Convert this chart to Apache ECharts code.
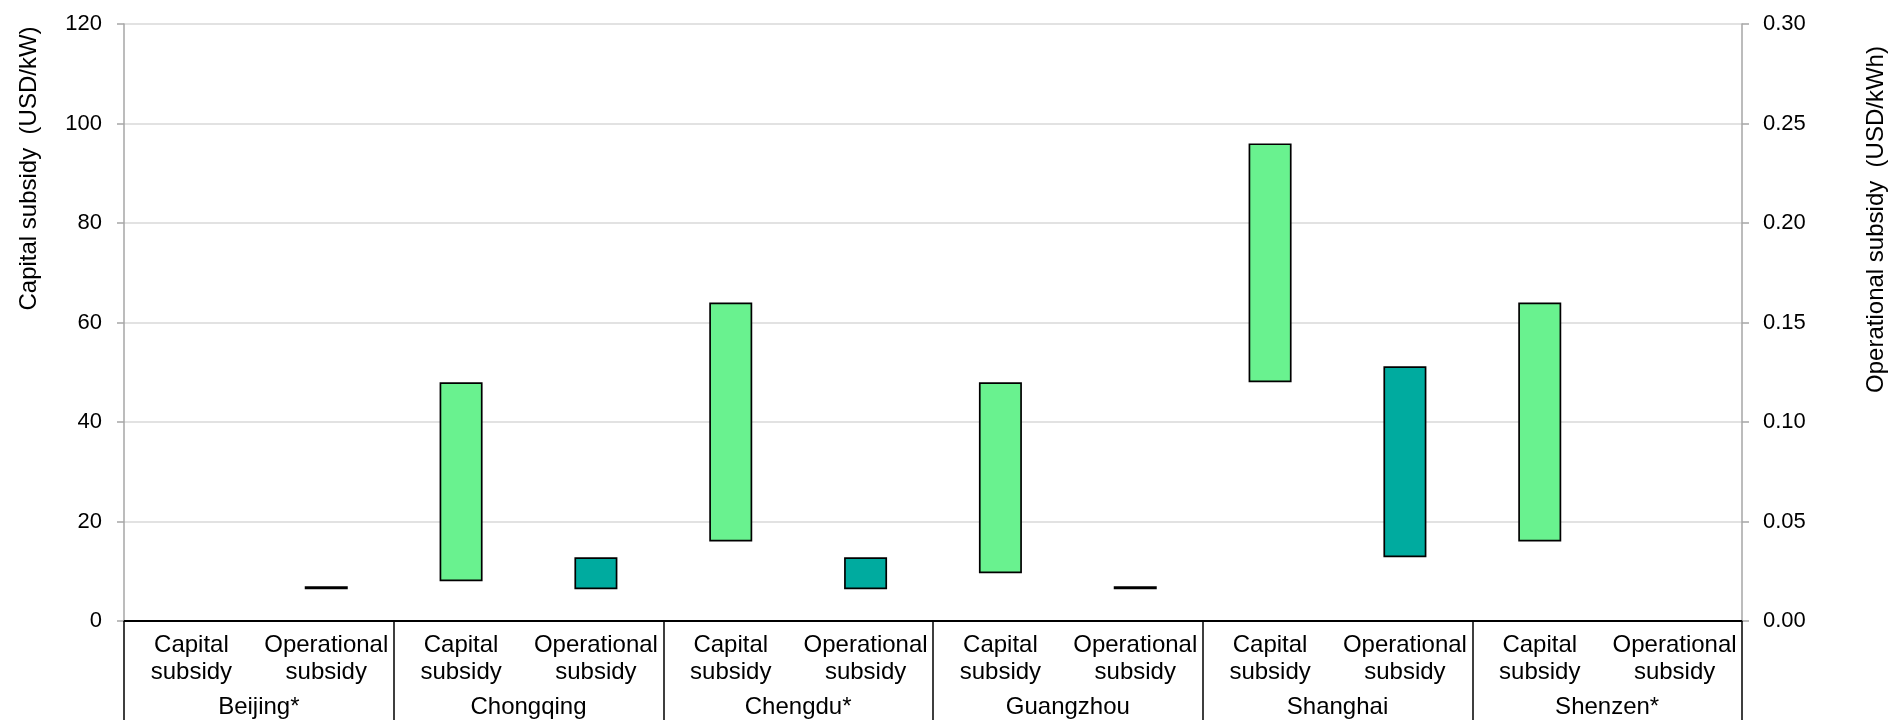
<!DOCTYPE html>
<html>
<head>
<meta charset="utf-8">
<script src="https://cdn.jsdelivr.net/npm/echarts@6/dist/echarts.min.js"></script>
<style>
html,body{margin:0;padding:0;background:#fff;}
#chart{width:1890px;height:720px;}
</style>
</head>
<body>
<div id="chart"></div>
<script>
const cities = ['Beijing*', 'Chongqing', 'Chengdu*', 'Guangzhou', 'Shanghai', 'Shenzen*'];
const subsidyTypes = ['Capital\nsubsidy', 'Operational\nsubsidy'];
// Capital subsidy range (USD/kW), left axis
const capitalLow  = [null, 8, 16, 9.6, 48, 16];
const capitalHigh = [null, 48, 64, 48, 96, 64];
// Operational subsidy range (USD/kWh), right axis
const operationalLow  = [0.016, 0.016, 0.016, 0.016, 0.032, null];
const operationalHigh = [0.016, 0.032, 0.032, 0.016, 0.128, null];

const categories = [];
cities.forEach(() => subsidyTypes.forEach(t => categories.push(t)));

const capBase = [], capRange = [], opBase = [], opRange = [];
cities.forEach((c, i) => {
  const hasCap = capitalLow[i] != null;
  const hasOp = operationalLow[i] != null;
  capBase.push(hasCap ? capitalLow[i] : '-');
  capRange.push(hasCap ? +(capitalHigh[i] - capitalLow[i]).toFixed(4) : '-');
  capBase.push('-'); capRange.push('-');
  opBase.push('-'); opRange.push('-');
  opBase.push(hasOp ? operationalLow[i] : '-');
  opRange.push(hasOp ? +(operationalHigh[i] - operationalLow[i]).toFixed(4) : '-');
});

const FONT = 'Liberation Sans, Arial, sans-serif';
const chart = echarts.init(document.getElementById('chart'));
chart.setOption({
  animation: false,
  backgroundColor: '#ffffff',
  textStyle: { fontFamily: FONT, color: '#000' },
  grid: { left: 124, right: 148, top: 24, bottom: 99, containLabel: false, outerBoundsMode: 'none' },
  xAxis: [
    {
      type: 'category',
      data: categories,
      axisLine: { show: true, lineStyle: { color: '#000', width: 2 } },
      axisTick: { show: false },
      axisLabel: { interval: 0, margin: 11, fontSize: 24, lineHeight: 27, color: '#000', fontFamily: FONT }
    },
    {
      type: 'category',
      data: cities,
      position: 'bottom',
      axisLine: { show: false },
      axisTick: { show: true, length: 110, lineStyle: { color: '#000', width: 1.5 } },
      axisLabel: { interval: 0, margin: 73, fontSize: 24, lineHeight: 27, color: '#000', fontFamily: FONT }
    }
  ],
  yAxis: [
    {
      type: 'value', min: 0, max: 120, interval: 20,
      name: 'Capital subsidy  (USD/kW)',
      nameLocation: 'middle', nameGap: 83,
      nameTextStyle: { fontSize: 24, color: '#000', fontFamily: FONT, padding: [0, 0, 0, 308] },
      axisLine: { show: true, lineStyle: { color: '#A6A6A6', width: 1.5 } },
      axisTick: { show: true, length: 7, lineStyle: { color: '#A6A6A6', width: 1.5 } },
      axisLabel: { margin: 22, fontSize: 22, color: '#000', fontFamily: FONT },
      splitLine: { show: true, lineStyle: { color: '#D9D9D9', width: 1.5 } }
    },
    {
      type: 'value', min: 0, max: 0.3, interval: 0.05,
      name: 'Operational subsidy  (USD/kWh)',
      nameLocation: 'middle', nameGap: 122, nameRotate: 90,
      nameTextStyle: { fontSize: 24, color: '#000', fontFamily: FONT, padding: [0, 0, 0, 206] },
      axisLine: { show: true, lineStyle: { color: '#A6A6A6', width: 1.5 } },
      axisTick: { show: true, length: 7, lineStyle: { color: '#A6A6A6', width: 1.5 } },
      axisLabel: { margin: 21, fontSize: 22, color: '#000', fontFamily: FONT, formatter: v => v.toFixed(2) },
      splitLine: { show: false }
    }
  ],
  series: [
    { name: 'capBase', type: 'bar', stack: 'cap', xAxisIndex: 0, yAxisIndex: 0, data: capBase,
      barWidth: 43, barGap: '-100%', itemStyle: { color: 'transparent' }, silent: true },
    { name: 'Capital subsidy', type: 'bar', stack: 'cap', xAxisIndex: 0, yAxisIndex: 0, data: capRange,
      barWidth: 43, barGap: '-100%', itemStyle: { color: '#69F28F', borderColor: '#000', borderWidth: 1.7 } },
    { name: 'opBase', type: 'bar', stack: 'op', xAxisIndex: 0, yAxisIndex: 1, data: opBase,
      barWidth: 43, barGap: '-100%', itemStyle: { color: 'transparent' }, silent: true },
    { name: 'Operational subsidy', type: 'bar', stack: 'op', xAxisIndex: 0, yAxisIndex: 1, data: opRange,
      barWidth: 43, barGap: '-100%', barMinHeight: 3,
      itemStyle: { color: '#00AB9F', borderColor: '#000', borderWidth: 1.7 } }
  ]
});
</script>
</body>
</html>
